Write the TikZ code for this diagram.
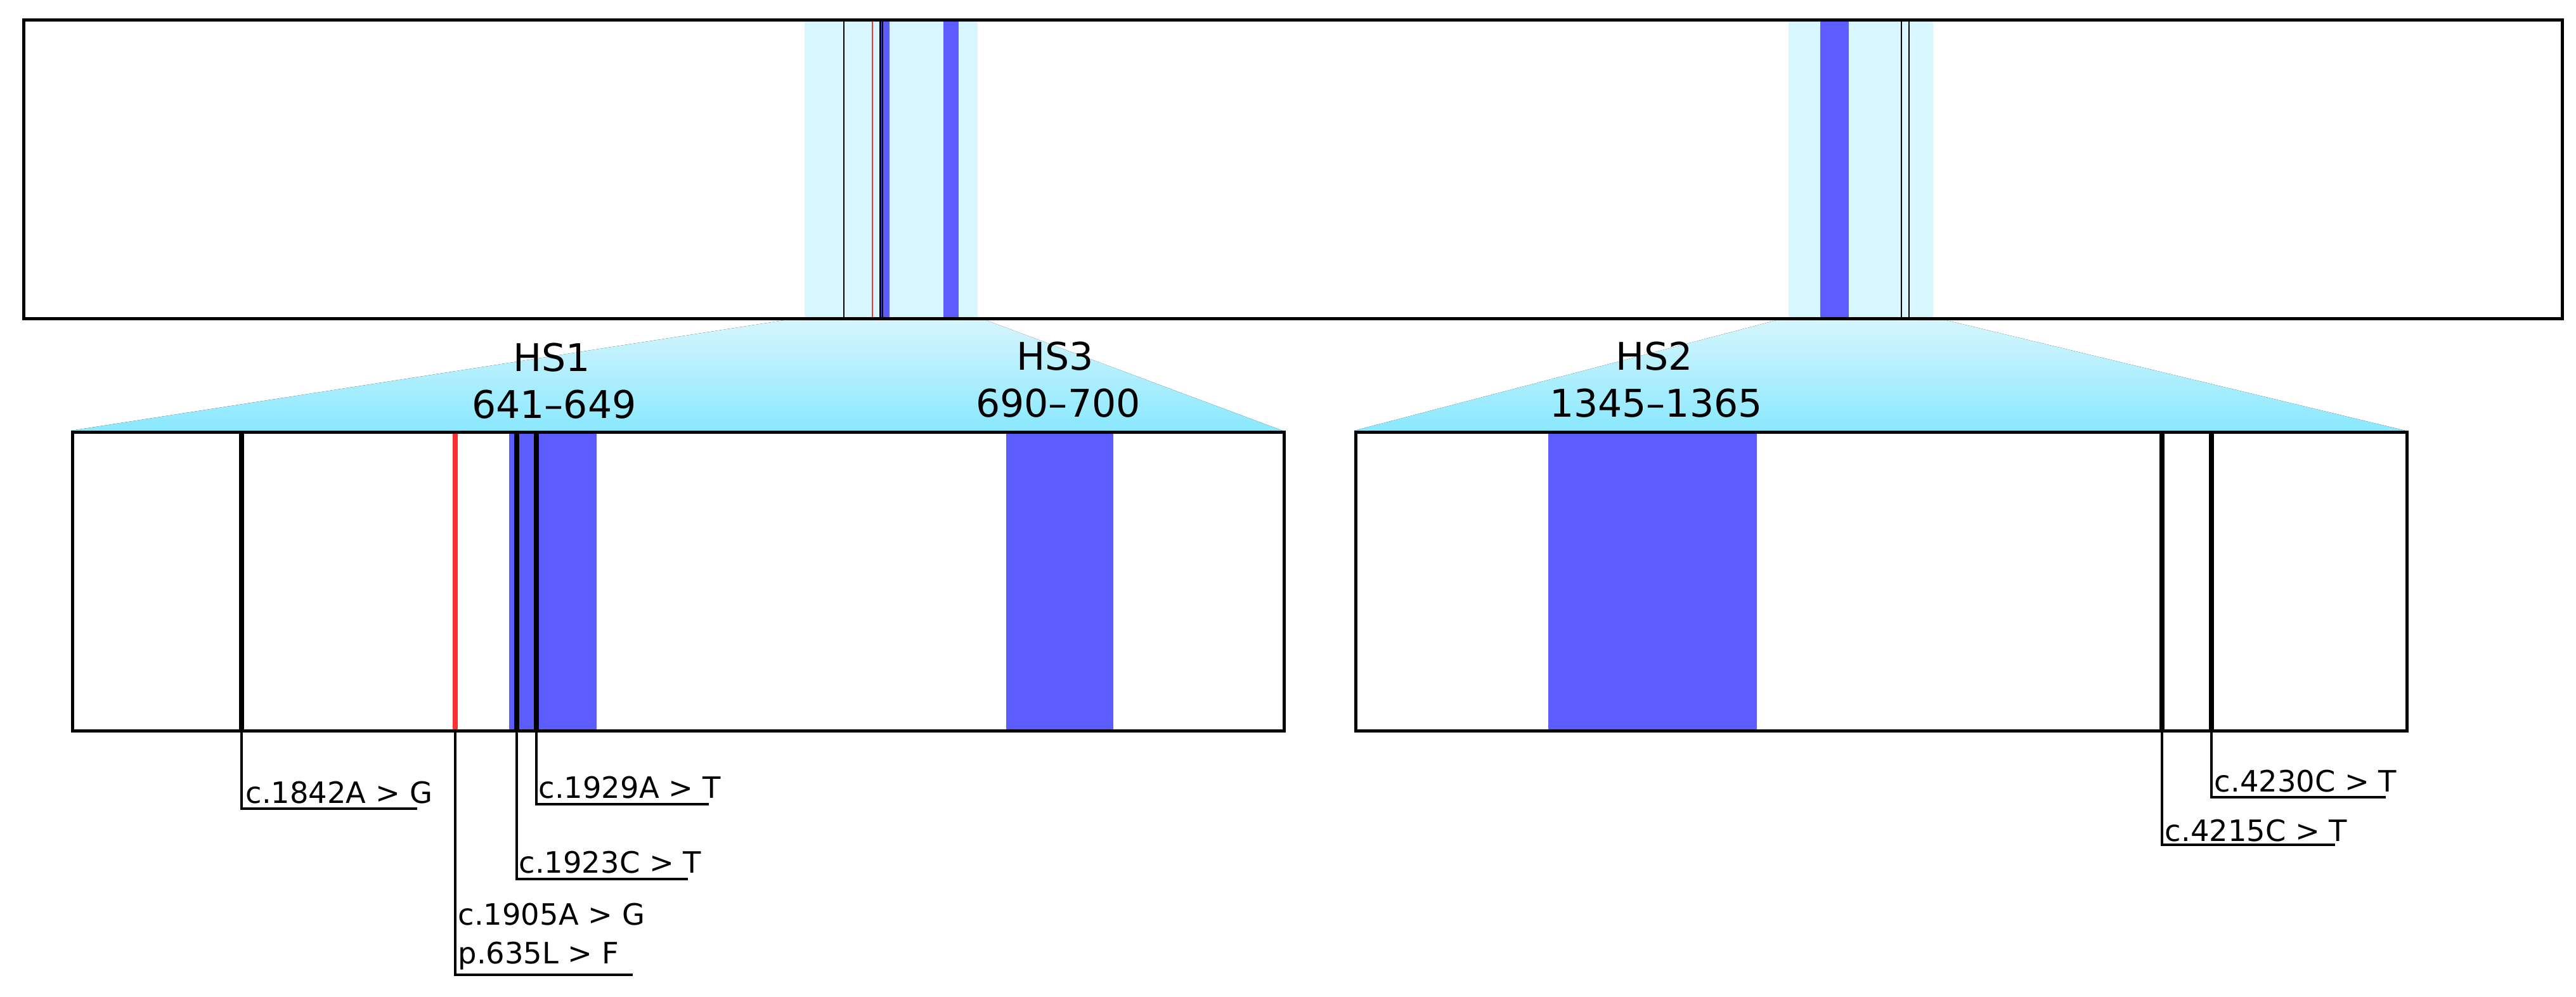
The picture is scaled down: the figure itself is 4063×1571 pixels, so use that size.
\documentclass[tikz,border=0pt]{standalone}
\usepackage{fontspec}
\setmainfont{DejaVu Sans}
\definecolor{hsblue}{HTML}{5C5CFF}
\definecolor{lightzone}{HTML}{D8F6FD}
\definecolor{fanTop}{HTML}{D8F6FD}
\definecolor{fanBot}{HTML}{8AE8FE}
\definecolor{mutred}{HTML}{FF3030}
\begin{document}
\begin{tikzpicture}[x=0.1mm,y=-0.1mm,
  hdr/.style={font=\fontsize{17.1pt}{20pt}\selectfont, inner sep=0pt, anchor=base},
  varlabel/.style={font=\fontsize{13.2pt}{16pt}\selectfont, inner sep=0pt, anchor=base west},
  frame/.style={draw=black, line width=0.45mm},
  leader/.style={draw=black, line width=0.4mm},
  mutline/.style={draw=black, line width=0.8mm},
  mutlinered/.style={draw=mutred, line width=0.8mm},
  thinmut/.style={draw=black, line width=0.25mm},
  band/.style={fill=hsblue},
  zone/.style={fill=lightzone},
  fan/.style={top color=fanTop, bottom color=fanBot, draw=none}]
\path[use as bounding box] (0,0) rectangle (4063,1571);

% zoom fans
\fill[fan] (1269,500) -- (1542,500) -- (2023,679) -- (112,679) -- cycle;
\fill[fan] (2821,500) -- (3049,500) -- (3794,679) -- (2136,679) -- cycle;

% top bar contents
\fill[zone] (1269,29) rectangle (1542,500);
\fill[zone] (2821,29) rectangle (3049,500);
\fill[band] (1387,29) rectangle (1403,500);
\fill[band] (1488,29) rectangle (1512,500);
\fill[band] (2871,29) rectangle (2916,500);
\draw[thinmut] (1331,29) -- (1331,500);
\draw[draw=mutred, line width=0.25mm] (1376,29) -- (1376,500);
\draw[draw=black, line width=0.3mm] (1388,29) -- (1388,500);
\draw[draw=black, line width=0.2mm] (1392,29) -- (1392,500);
\draw[thinmut] (2999,29) -- (2999,500);
\draw[thinmut] (3011,29) -- (3011,500);
\node[frame, draw, fill=none, inner sep=0pt, minimum width=400.4mm, minimum height=47.1mm, anchor=north west] (topbar) at (35,29) {};

% zoom box 1
\fill[band] (803,679) rectangle (941,1150);
\fill[band] (1587,679) rectangle (1756,1150);
\coordinate (m1842) at (381,1150);
\coordinate (m1905) at (718,1150);
\coordinate (m1923) at (815,1150);
\coordinate (m1929) at (846,1150);
\draw[mutline] (381,679) -- (m1842);
\draw[mutlinered] (718,679) -- (m1905);
\draw[mutline] (815,679) -- (m1923);
\draw[mutline] (846,679) -- (m1929);
\node[frame, draw, inner sep=0pt, minimum width=191.1mm, minimum height=47.1mm, anchor=north west] (box1) at (112,679) {};

% zoom box 2
\fill[band] (2442,679) rectangle (2771,1150);
\coordinate (m4215) at (3410,1150);
\coordinate (m4230) at (3488,1150);
\draw[mutline] (3410,679) -- (m4215);
\draw[mutline] (3488,679) -- (m4230);
\node[frame, draw, inner sep=0pt, minimum width=165.8mm, minimum height=47.1mm, anchor=north west] (box2) at (2136,679) {};

% headers
\node[hdr] (hs1) at (870,585) {HS1};
\node[hdr] (hs1r) at (874,659) {641–649};
\node[hdr] (hs3) at (1664,583) {HS3};
\node[hdr] (hs3r) at (1669,657) {690–700};
\node[hdr] (hs2) at (2609,583) {HS2};
\node[hdr] (hs2r) at (2612,657) {1345–1365};

% variant labels
\node[varlabel] (v1842) at (387,1266) {c.1842A > G};
\node[varlabel] (v1905) at (722,1458) {c.1905A > G};
\node[varlabel] (p635) at (722,1519) {p.635L > F};
\node[varlabel] (v1923) at (818,1376) {c.1923C > T};
\node[varlabel] (v1929) at (849,1258) {c.1929A > T};
\node[varlabel] (v4230) at (3492,1248) {c.4230C > T};
\node[varlabel] (v4215) at (3414,1326) {c.4215C > T};

% leaders
\coordinate (u1842) at (658,1275);
\coordinate (u1905) at (998,1537);
\coordinate (u1923) at (1085,1386);
\coordinate (u1929) at (1118,1268);
\coordinate (u4230) at (3763,1257);
\coordinate (u4215) at (3683,1332);
\draw[leader] (m1842) |- (u1842);
\draw[leader] (m1905) |- (u1905);
\draw[leader] (m1923) |- (u1923);
\draw[leader] (m1929) |- (u1929);
\draw[leader] (m4230) |- (u4230);
\draw[leader] (m4215) |- (u4215);
\end{tikzpicture}
\end{document}
